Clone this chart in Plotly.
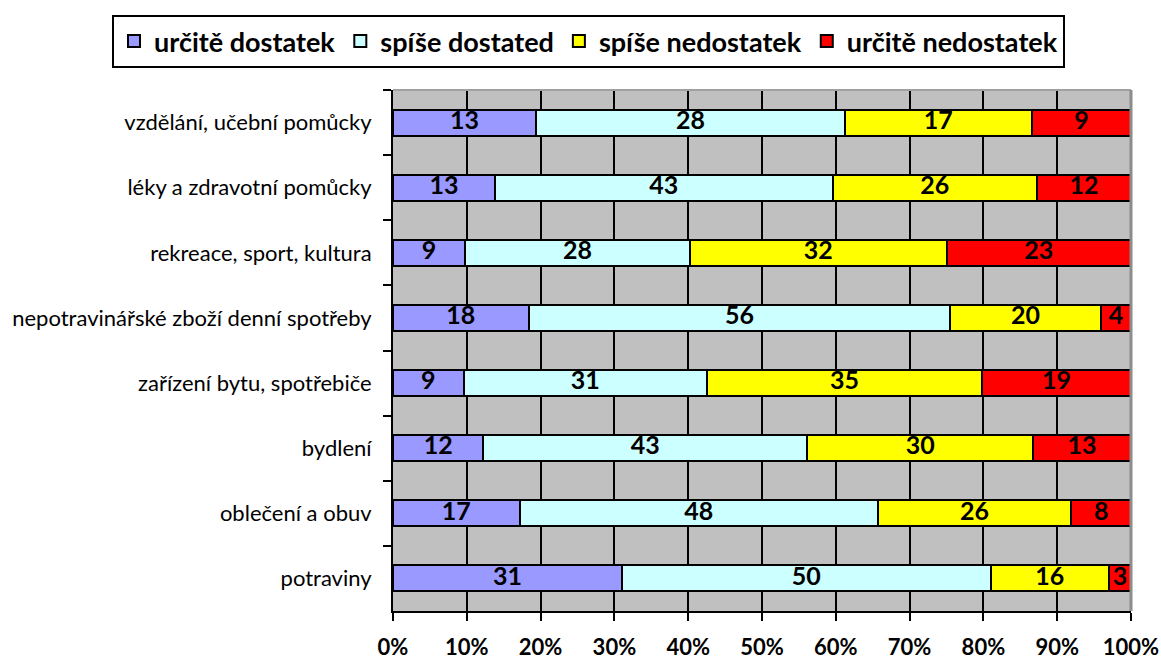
import plotly.graph_objects as go

categories = [
    "vzdělání, učební pomůcky",
    "léky a zdravotní pomůcky",
    "rekreace, sport, kultura",
    "nepotravinářské zboží denní spotřeby",
    "zařízení bytu, spotřebiče",
    "bydlení",
    "oblečení a obuv",
    "potraviny",
]
series_names = ["určitě dostatek", "spíše dostated", "spíše nedostatek", "určitě nedostatek"]
urcite_dostatek = [13, 13, 9, 18, 9, 12, 17, 31]
spise_dostatek = [28, 43, 28, 56, 31, 43, 48, 50]
spise_nedostatek = [17, 26, 32, 20, 35, 30, 26, 16]
urcite_nedostatek = [9, 12, 23, 4, 19, 13, 8, 3]
colors = ["#9999FF", "#CCFFFF", "#FFFF00", "#FF0000"]
x_ticks = [0, 10, 20, 30, 40, 50, 60, 70, 80, 90, 100]
x_tick_labels = ["0%", "10%", "20%", "30%", "40%", "50%", "60%", "70%", "80%", "90%", "100%"]

FONT = "Lato"
series = [urcite_dostatek, spise_dostatek, spise_nedostatek, urcite_nedostatek]
totals = [sum(row) for row in zip(*series)]

fig = go.Figure()
for name, vals, col in zip(series_names, series, colors):
    fig.add_trace(go.Bar(
        name=name, y=categories, x=vals, orientation="h",
        marker=dict(color=col, line=dict(color="black", width=2)),
        textposition="none", hoverinfo="skip",
    ))

# value labels centred in each stacked (percent-normalised) segment
lab_x, lab_y, lab_t = [], [], []
for i, cat in enumerate(categories):
    cum = 0.0
    for vals in series:
        share = vals[i] / totals[i] * 100
        lab_x.append(cum + share / 2)
        lab_y.append(cat)
        lab_t.append(str(vals[i]))
        cum += share
fig.add_trace(go.Scatter(
    x=lab_x, y=lab_y, text=lab_t, mode="text", showlegend=False,
    textfont=dict(family=FONT, size=25, color="black", weight="bold"),
    textposition="middle center", hoverinfo="skip", cliponaxis=False,
))

fig.update_layout(
    barmode="stack", barnorm="percent", bargap=0.6,
    width=1161, height=661,
    margin=dict(l=393, r=30, t=90, b=50, autoexpand=False),
    paper_bgcolor="white", plot_bgcolor="#C0C0C0",
    font=dict(family=FONT, color="black"),
    showlegend=True,
    legend=dict(
        orientation="h", x=(112 - 393) / 738, xanchor="left", y=1 + (90 - 15) / 521, yanchor="top",
        bordercolor="black", borderwidth=2, bgcolor="white",
        font=dict(family=FONT, size=27, color="black", weight="bold"),
        traceorder="normal",
    ),
    xaxis=dict(
        range=[0, 100], tickvals=x_ticks, ticktext=x_tick_labels,
        showgrid=True, gridcolor="black", gridwidth=2,
        showline=True, linecolor="black", linewidth=2,
        ticks="outside", ticklen=8, tickwidth=2, tickcolor="black",
        ticklabelstandoff=8, automargin=False,
        tickfont=dict(family=FONT, size=22, color="black", weight="bold"),
        zeroline=False, fixedrange=True,
    ),
    yaxis=dict(
        type="category", autorange="reversed",
        tickson="boundaries", ticks="outside", ticklen=8, tickwidth=2, tickcolor="black",
        showgrid=False, showline=True, linecolor="black", linewidth=2,
        ticklabelstandoff=15, automargin=False, fixedrange=True,
        tickfont=dict(family=FONT, size=22, color="black"),
    ),
    shapes=[
        dict(type="line", xref="paper", yref="paper", x0=0, x1=1, y0=1, y1=1,
             line=dict(color="#A0A0A0", width=2), layer="above"),
        dict(type="line", xref="paper", yref="paper", x0=1, x1=1, y0=0, y1=1,
             line=dict(color="#8C8C8C", width=3), layer="above"),
    ],
)

fig.write_html("out.html", config={"displayModeBar": False},
               post_script="document.body.style.margin='0';")
